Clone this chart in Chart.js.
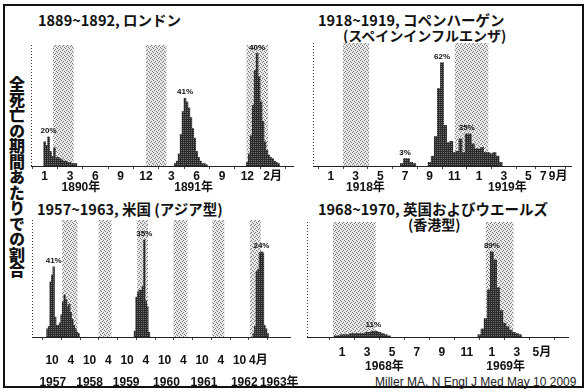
<!DOCTYPE html>
<html>
<head>
<meta charset="utf-8">
<script src="https://cdn.jsdelivr.net/npm/chart.js@4.4.1/dist/chart.umd.min.js"></script>
<style>
  body { margin: 0; background: #fff; }
  #wrap { position: relative; width: 586px; height: 392px; overflow: hidden; background: #fff; }
  #frame { position: absolute; left: 3px; top: 4px; width: 581px; height: 384px; border: 2px solid #111; box-sizing: border-box; }
  canvas { position: absolute; }
  .t { position: absolute; font-family: 'Noto Sans CJK JP', sans-serif; font-weight: bold; font-size: 14.5px; line-height: 16px; color: #111; white-space: nowrap; }
  .t2 { font-size: 14px; }
  #ylab { position: absolute; left: 8px; top: 76px; writing-mode: vertical-rl; letter-spacing: -0.5px; font-family: 'Noto Sans CJK JP', sans-serif; font-weight: 900; font-size: 16px; line-height: 18px; color: #111; }
  #cite { position: absolute; left: 375px; top: 375px; font-family: 'Liberation Sans', sans-serif; font-size: 12px; line-height: 14px; color: #222; }
</style>
</head>
<body>
<div id="wrap">
  <div id="frame"></div>
  <div class="t" style="left:38px;top:12px">1889~1892, ロンドン</div>
  <div class="t" style="left:318px;top:12px">1918~1919, コペンハーゲン</div>
  <div class="t t2" style="left:343px;top:27px">(スペインインフルエンザ)</div>
  <div class="t" style="left:37px;top:201px">1957~1963, 米国 (アジア型)</div>
  <div class="t" style="left:318px;top:201px">1968~1970, 英国およびウエールズ</div>
  <div class="t t2" style="left:408px;top:216px">(香港型)</div>
  <div id="ylab">全死亡の期間あたりでの割合</div>
  <div id="cite">Miller MA, N Engl J Med May 10 2009</div>
  <canvas id="c1" width="276" height="162" style="left:22px;top:38px"></canvas>
  <canvas id="c2" width="286" height="164" style="left:300px;top:36px"></canvas>
  <canvas id="c3" width="291" height="179" style="left:22px;top:213px"></canvas>
  <canvas id="c4" width="288" height="160" style="left:298px;top:215px"></canvas>
</div>
<script>
const FONT = "'Liberation Sans', 'Noto Sans CJK JP', sans-serif";

// 1889~1892 London  (x = weeks, bars weekly, y = % of axis height)
const londonTicks = [0, 13, 26, 39, 52, 65, 78, 91, 104, 117];
const londonTickLabels = ["1", "3", "6", "9", "12", "3", "6", "9", "12", "2月"];
const londonYears = ["1890年", "1891年"];
const londonYearPos = [18.6, 76.4];
const londonWinters = [[4.3, 14.9], [51.9, 62.5], [103.6, 114.7]];
const londonStep = 1;
const londonStart = [0, 67, 104];
const londonWaves = [
  [20, 17, 24, 12, 8, 15, 7, 7, 6, 5, 4, 4, 3, 3, 2, 2, 2],
  [2, 4, 10, 26, 45, 56, 53, 48, 40, 31, 23, 12, 7, 4, 2, 2, 1],
  [3, 10, 25, 50, 79, 93, 74, 53, 37, 20, 13, 9, 7, 6, 4, 3, 2]
];
const londonShares = ["20%", "41%", "40%"];

// 1918~1919 Copenhagen  (x = months from Jan 1918)
const cphTicks = [0, 2, 4, 6, 8, 10, 12, 14, 16, 17.2, 18.4];
const cphTickLabels = ["1", "3", "5", "7", "9", "11", "1", "3", "5", "7", "9月"];
const cphYears = ["1918年", "1919年"];
const cphYearPos = [2.8, 14.3];
const cphWinters = [[0.97, 3.11], [10.03, 12.75]];
const cphStep = 0.25;
const cphStart = [5.75, 8.0, 10.25];
const cphWaves = [
  [2, 6, 6, 3, 2],
  [3, 8, 24, 63, 84, 33, 19, 20, 11],
  [12, 22, 11, 26, 26, 18, 14, 14, 15, 11, 11, 10, 11, 8, 3]
];
const cphShares = ["3%", "62%", "35%"];

// 1957~1963 USA  (x = months from Jan 1957)
const usaTicks = [9, 15, 21, 27, 33, 39, 45, 51, 57, 63, 69, 75];
const usaTickLabels = ["10", "4", "10", "4", "10", "4", "10", "4", "10", "4", "10", "4月"];
const usaYears = ["1957", "1958", "1959", "1960", "1961", "1962", "1963年"];
const usaYearPos = [9.2, 21, 32.7, 45.6, 57.6, 70.5, 81.7];
const usaWinters = [[12.2, 17.1], [23.9, 28], [36.2, 39.7], [47.9, 52.3], [60.3, 64.1], [72.3, 75.8]];
const usaStep = 0.5;
const usaStart = [7.5, 35.5, 73.5];
const usaWaves = [
  [7, 9, 47, 53, 60, 17, 10, 10, 12, 19, 30, 36, 32, 26, 28, 21, 15, 10, 7, 4, 3],
  [5, 34, 38, 40, 40, 43, 83, 31, 26, 4],
  [3, 9, 56, 58, 72, 73, 72, 10, 7, 3]
];
const usaShares = ["41%", "35%", "24%"];

// 1968~1970 England & Wales  (x = months)
const engTicks = [0, 2, 4, 6, 8, 10, 12, 14, 16];
const engTickLabels = ["1", "3", "5", "7", "9", "11", "1", "3", "5月"];
const engYears = ["1968年", "1969年"];
const engYearPos = [3.4, 13.1];
const engWinters = [[-0.72, 2.7], [11.52, 13.72]];
const engStep = 0.25;
const engStart = [-0.5, 11.0];
const engWaves = [
  [1, 1, 2, 2, 2, 3, 3, 3, 3, 3, 4, 4, 5, 5, 4, 3, 2, 1],
  [2, 7, 16, 41, 74, 67, 43, 23, 12, 9, 6, 4, 3, 2]
];
const engShares = ["11%", "89%"];

function dots(size, base, ink, cells) {
  const c = document.createElement('canvas');
  c.width = size; c.height = size;
  const g = c.getContext('2d');
  g.fillStyle = base; g.fillRect(0, 0, size, size);
  g.fillStyle = ink;
  cells.forEach(p => g.fillRect(p[0], p[1], 1, 1));
  return g.createPattern(c, 'repeat');
}
const shade = dots(4, '#e8e8e8', '#7c7c7c', [[0, 0], [2, 1], [1, 3], [3, 2]]);
const ink = dots(2, '#2a2a2a', '#707070', [[1, 0]]);

function makePlugin(p) {
  return {
    id: 'panel',
    beforeDraw(chart) {
      const { ctx, chartArea: a, scales: { x } } = chart;
      ctx.save();
      ctx.fillStyle = shade;
      p.winters.forEach(w => {
        const x1 = x.getPixelForValue(w[0]), x2 = x.getPixelForValue(w[1]);
        ctx.fillRect(x1, a.top, x2 - x1, a.bottom - a.top);
      });
      // dotted y axis
      ctx.strokeStyle = '#333';
      ctx.lineWidth = 1;
      ctx.setLineDash([1, 2]);
      ctx.beginPath();
      ctx.moveTo(a.left + 0.5, a.top);
      ctx.lineTo(a.left + 0.5, a.bottom);
      ctx.stroke();
      ctx.restore();
    },
    afterDatasetsDraw(chart) {
      const { ctx, chartArea: a, scales: { x, y } } = chart;
      ctx.save();
      ctx.fillStyle = '#111';
      ctx.textAlign = 'center';
      ctx.font = 'bold 8px ' + FONT;
      ctx.textBaseline = 'bottom';
      p.shares.forEach((s, i) => {
        const w = p.waves[i];
        const k = w.indexOf(Math.max(...w));
        ctx.fillText(s, x.getPixelForValue(p.start[i] + k * p.step), y.getPixelForValue(w[k]) - 2);
      });
      ctx.font = 'bold 12px ' + FONT;
      ctx.textBaseline = 'middle';
      p.years.forEach((t, i) => ctx.fillText(t, x.getPixelForValue(p.yearPos[i]), a.bottom + p.yearOff));
      ctx.restore();
    }
  };
}

function panel(id, p) {
  const points = [];
  p.start.forEach((s, i) => {
    p.waves[i].forEach((v, j) => points.push({ x: s + j * p.step, y: v }));
  });
  new Chart(document.getElementById(id), {
    type: 'bar',
    data: {
      datasets: [{
        data: points,
        backgroundColor: ink,
        borderWidth: 0,
        barPercentage: 1,
        categoryPercentage: 1
      }]
    },
    options: {
      responsive: false,
      animation: false,
      layout: { padding: p.pad },
      plugins: { legend: { display: false }, tooltip: { enabled: false } },
      scales: {
        x: {
          type: 'linear',
          min: p.min,
          max: p.max,
          afterBuildTicks: s => { s.ticks = p.ticks.map(v => ({ value: v })); },
          afterFit: s => { s.height = p.axisH; },
          ticks: {
            autoSkip: false,
            maxRotation: 0,
            padding: p.tickPad,
            color: '#111',
            font: { family: FONT, size: 12, weight: 'bold' },
            callback: (v, i) => p.labels[i]
          },
          grid: { display: true, drawOnChartArea: false, tickLength: 3, color: '#444' },
          border: { display: true, color: '#222', dash: [2, 1] }
        },
        y: { display: false, min: 0, max: 100 }
      }
    },
    plugins: [makePlugin(p)]
  });
}

panel('c1', {
  ticks: londonTicks, labels: londonTickLabels, years: londonYears, yearPos: londonYearPos,
  winters: londonWinters, step: londonStep, start: londonStart, waves: londonWaves, shares: londonShares,
  min: -0.3, max: 120.7, pad: { left: 9, top: 7, right: 5, bottom: 0 }, axisH: 34, tickPad: 0, yearOff: 22
});
panel('c2', {
  ticks: cphTicks, labels: cphTickLabels, years: cphYears, yearPos: cphYearPos,
  winters: cphWinters, step: cphStep, start: cphStart, waves: cphWaves, shares: cphShares,
  min: -0.5, max: 18.5, pad: { left: 13, top: 7, right: 15, bottom: 0 }, axisH: 34, tickPad: 0, yearOff: 22
});
panel('c3', {
  ticks: usaTicks, labels: usaTickLabels, years: usaYears, yearPos: usaYearPos,
  winters: usaWinters, step: usaStep, start: usaStart, waves: usaWaves, shares: usaShares,
  min: 6, max: 81.7, pad: { left: 10, top: 7, right: 23, bottom: 0 }, axisH: 55, tickPad: 13, yearOff: 46
});
panel('c4', {
  ticks: engTicks, labels: engTickLabels, years: engYears, yearPos: engYearPos,
  winters: engWinters, step: engStep, start: engStart, waves: engWaves, shares: engShares,
  min: -1.64, max: 16.93, pad: { left: 9, top: 7, right: 18, bottom: 0 }, axisH: 38, tickPad: 5, yearOff: 30
});
</script>
</body>
</html>
